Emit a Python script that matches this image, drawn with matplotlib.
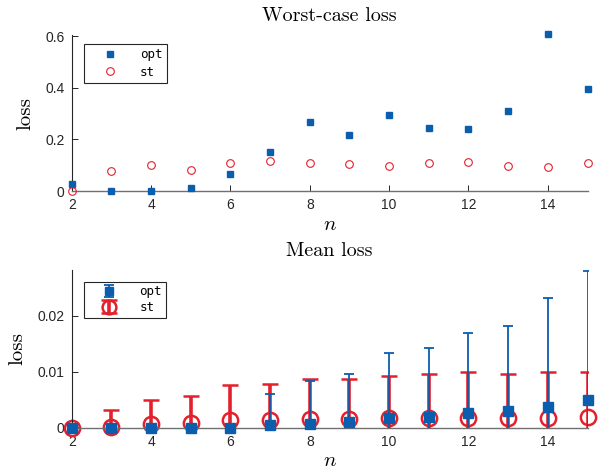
#plot.py

#worst-case and mean loss for opt vs st

import matplotlib
matplotlib.use('Agg')
import matplotlib.pyplot as plt
import numpy as np

plt.rcParams['mathtext.fontset'] = 'cm'
plt.rcParams['font.family'] = ['Liberation Sans', 'DejaVu Sans']
plt.rcParams['axes.unicode_minus'] = False

n = np.arange(2, 16)

#worst-case loss
worst_opt = [0.027, 0.0, 0.0, 0.010, 0.066, 0.150, 0.267, 0.217, 0.294, 0.243, 0.241, 0.308, 0.608, 0.395]
worst_st = [0.0, 0.076, 0.102, 0.080, 0.107, 0.116, 0.110, 0.105, 0.095, 0.107, 0.111, 0.097, 0.094, 0.108]

#mean loss and spread
mean_opt = [0.0, 0.0, 0.0, 0.0, 0.0, 0.0005, 0.0007, 0.0011, 0.0017, 0.0019, 0.0026, 0.0029, 0.0037, 0.0049]
err_opt = [0.0, 0.0, 0.0, 0.0, 0.0, 0.0056, 0.0076, 0.0085, 0.0117, 0.0124, 0.0144, 0.0153, 0.0195, 0.0231]
mean_st = [0.0, 0.0002, 0.0006, 0.0008, 0.0014, 0.0013, 0.0015, 0.0016, 0.0018, 0.0018, 0.0018, 0.0018, 0.0018, 0.0019]
err_st = [0.0, 0.0030, 0.0043, 0.0048, 0.0063, 0.0066, 0.0072, 0.0071, 0.0074, 0.0078, 0.0082, 0.0078, 0.0081, 0.0080]

blue = '#0b5eae'
red = '#e3202b'
serif = ['cmr10', 'Liberation Serif']

fig = plt.figure(figsize=(6.05, 4.72), dpi=100)
ax1 = fig.add_axes([0.1185, 0.5953, 0.8526, 0.3305])
ax2 = fig.add_axes([0.1185, 0.0939, 0.8526, 0.3341])

def style(ax):
    ax.spines['top'].set_visible(False)
    ax.spines['right'].set_visible(False)
    ax.spines['left'].set_color('#262626')
    ax.spines['bottom'].set_color('#707070')
    ax.spines['left'].set_linewidth(0.8)
    ax.spines['bottom'].set_linewidth(1.0)
    ax.tick_params(direction='in', length=4, width=0.7, colors='#262626', labelsize=10, pad=5)
    ax.set_xlim(2, 15)
    ax.set_xticks([2, 4, 6, 8, 10, 12, 14])
    ax.set_xlabel('$n$', fontsize=15, labelpad=2)
    ax.set_ylabel('loss', family=serif, fontsize=15, labelpad=8)

#top: worst-case
ax1.plot(n, worst_opt, 's', color=blue, ms=4.5, mec=blue, label='opt', clip_on=False, zorder=3)
ax1.plot(n, worst_st, 'o', mfc='none', mec=red, ms=5.5, mew=0.8, label='st', clip_on=False, zorder=3)
style(ax1)
ax1.set_ylim(0, 0.604)
ax1.set_yticks([0, 0.2, 0.4, 0.6])
ax1.set_yticklabels(['0', '0.2', '0.4', '0.6'])
ax1.set_title('Worst-case loss', family=serif, fontsize=14.5, pad=10)
leg1 = ax1.legend(loc='upper left', bbox_to_anchor=(0.0244, 0.942), borderaxespad=0,
                  fancybox=False, edgecolor='#262626', framealpha=1,
                  prop={'family': 'DejaVu Sans Mono', 'size': 9},
                  handlelength=3.4, handletextpad=0.7, borderpad=0.35, labelspacing=0.35)
leg1.get_frame().set_linewidth(0.8)

#bottom: mean with error bars
e_st = ax2.errorbar(n, mean_st, yerr=err_st, fmt='o', mfc='none', mec=red, ecolor=red,
                    ms=11, mew=1.8, elinewidth=2.6, capsize=6, capthick=2.6, label='st', zorder=2)
e_opt = ax2.errorbar(n, mean_opt, yerr=err_opt, fmt='s', color=blue, ecolor=blue,
                     ms=7, elinewidth=1.3, capsize=3.6, capthick=1.3, label='opt', zorder=3)
e_st[0].set_clip_on(False)
e_opt[0].set_clip_on(False)
style(ax2)
ax2.set_ylim(0, 0.0282)
ax2.set_yticks([0, 0.01, 0.02])
ax2.set_yticklabels(['0', '0.01', '0.02'])
ax2.set_title('Mean loss', family=serif, fontsize=14.5, pad=10)
h, l = ax2.get_legend_handles_labels()
leg2 = ax2.legend(h[::-1], l[::-1], loc='upper left', bbox_to_anchor=(0.0244, 0.926), borderaxespad=0,
                  fancybox=False, edgecolor='#262626', framealpha=1,
                  prop={'family': 'DejaVu Sans Mono', 'size': 9},
                  handlelength=3.4, handletextpad=0.7, borderpad=0.3, labelspacing=0.2,
                  markerscale=0.9)
leg2.get_frame().set_linewidth(0.8)

fig.savefig('out.png', dpi=100)
